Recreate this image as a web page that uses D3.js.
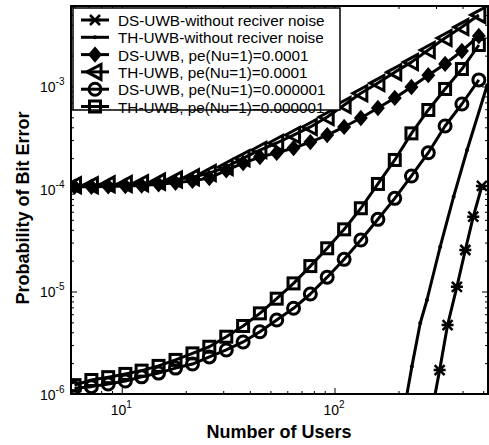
<!DOCTYPE html>
<html>
<head>
<meta charset="utf-8">
<script src="https://cdn.jsdelivr.net/npm/d3@7"></script>
<style>
  body { margin: 0; background: #fff; }
  svg { display: block; font-family: Arial, "Liberation Sans", sans-serif; }
</style>
</head>
<body>
<div id="chart"></div>
<script>
// number of users, one per marker on the pe(Nu=1) curves
const users = [6, 7.2, 8.64, 10.4, 12.4, 14.9, 17.9, 21.5, 25.8, 31, 37.2, 44.6, 53.5,
  64.2, 77, 92.4, 111, 133, 160, 192, 230, 276, 331, 397, 477];

const dsPe4 = [1.05e-4, 1.05e-4, 1.06e-4, 1.07e-4, 1.08e-4, 1.11e-4, 1.15e-4, 1.2e-4, 1.28e-4,
  1.52e-4, 1.79e-4, 2.05e-4, 2.25e-4, 2.51e-4, 2.87e-4, 3.36e-4, 4.03e-4, 4.93e-4, 6.17e-4,
  7.73e-4, 9.89e-4, 1.29e-3, 1.66e-3, 2.22e-3, 3.11e-3];
const thPe4 = [1.09e-4, 1.09e-4, 1.11e-4, 1.12e-4, 1.14e-4, 1.18e-4, 1.24e-4, 1.3e-4, 1.43e-4,
  1.64e-4, 2.0e-4, 2.4e-4, 2.81e-4, 3.36e-4, 4.03e-4, 5.04e-4, 6.6e-4, 8.6e-4, 1.08e-3,
  1.38e-3, 1.73e-3, 2.27e-3, 2.97e-3, 3.8e-3, 4.99e-3];
const dsPe6 = [1.14e-6, 1.18e-6, 1.25e-6, 1.34e-6, 1.47e-6, 1.6e-6, 1.79e-6, 1.96e-6, 2.3e-6,
  2.69e-6, 3.22e-6, 4.05e-6, 5.27e-6, 6.86e-6, 9.45e-6, 1.38e-5, 2.06e-5, 3.18e-5, 5.06e-5,
  8.11e-5, 1.34e-4, 2.26e-4, 4.12e-4, 6.75e-4, 1.16e-3];
const thPe6 = [1.22e-6, 1.37e-6, 1.46e-6, 1.57e-6, 1.69e-6, 1.88e-6, 2.15e-6, 2.49e-6, 2.89e-6,
  3.62e-6, 4.61e-6, 6.12e-6, 8.51e-6, 1.2e-5, 1.77e-5, 2.64e-5, 4.04e-5, 6.49e-5, 1.12e-4,
  1.92e-4, 3.49e-4, 5.9e-4, 9.46e-4, 1.48e-3, 2.54e-3];

// curves without receiver noise have their own user counts
const dsNoNoiseUsers = [285, 312, 340, 376, 412, 449, 493];
const dsNoNoise = [6.3e-7, 1.71e-6, 4.71e-6, 1.11e-5, 2.54e-5, 5.37e-5, 1.07e-4];
const thNoNoiseUsers = [215, 231, 253, 272, 314, 363, 420, 522];
const thNoNoise = [8e-7, 1.85e-6, 4.93e-6, 8.26e-6, 2.74e-5, 8.41e-5, 2.4e-4, 1.03e-3];

const legendLabels = [
  'DS-UWB-without reciver noise',
  'TH-UWB-without reciver noise',
  'DS-UWB, pe(Nu=1)=0.0001',
  'TH-UWB, pe(Nu=1)=0.0001',
  'DS-UWB, pe(Nu=1)=0.000001',
  'TH-UWB, pe(Nu=1)=0.000001'
];

const xMajor = [10, 100];
const yMajor = [1e-6, 1e-5, 1e-4, 1e-3];

const W = 489, H = 445;
const m = { left: 71, right: 488, top: 6, bottom: 394 };

const x = d3.scaleLog().domain([5.775, 526.6]).range([m.left, m.right]);
const y = d3.scaleLog().domain([1e-6, 6.1e-3]).range([m.bottom, m.top]);

const svg = d3.select('#chart').append('svg')
  .attr('width', W).attr('height', H);

svg.append('defs').append('clipPath').attr('id', 'clip')
  .append('rect')
  .attr('x', m.left).attr('y', m.top)
  .attr('width', m.right - m.left).attr('height', m.bottom - m.top);

// minor/major tick values
const xTicks = [];
[1, 10, 100].forEach(d => { for (let k = 1; k < 10; k++) xTicks.push(d * k); });
const xTv = xTicks.filter(v => v >= 5.775 && v <= 526.6);
const yTicks = [];
[1e-6, 1e-5, 1e-4, 1e-3].forEach(d => { for (let k = 1; k < 10; k++) yTicks.push(d * k); });
const yTv = yTicks.filter(v => v >= 1e-6 && v <= 6.1e-3);
const isMajor = v => Math.abs(Math.log10(v) - Math.round(Math.log10(v))) < 1e-9;

const axisG = svg.append('g');
const tickLen = v => isMajor(v) ? 6 : 3;

axisG.append('g').attr('transform', `translate(0,${m.bottom})`)
  .call(d3.axisBottom(x).tickValues(xTv).tickFormat('').tickSizeOuter(0))
  .call(g => g.selectAll('.tick line').attr('y2', d => -tickLen(d)));
axisG.append('g').attr('transform', `translate(0,${m.top})`)
  .call(d3.axisTop(x).tickValues(xTv).tickFormat('').tickSizeOuter(0))
  .call(g => g.selectAll('.tick line').attr('y2', d => tickLen(d)));
axisG.append('g').attr('transform', `translate(${m.left},0)`)
  .call(d3.axisLeft(y).tickValues(yTv).tickFormat('').tickSizeOuter(0))
  .call(g => g.selectAll('.tick line').attr('x2', d => tickLen(d)));
axisG.append('g').attr('transform', `translate(${m.right},0)`)
  .call(d3.axisRight(y).tickValues(yTv).tickFormat('').tickSizeOuter(0))
  .call(g => g.selectAll('.tick line').attr('x2', d => -tickLen(d)));
axisG.selectAll('.domain').remove();
axisG.selectAll('.tick line').attr('stroke', '#000').attr('stroke-width', 1);

svg.append('rect')
  .attr('x', m.left).attr('y', m.top)
  .attr('width', m.right - m.left).attr('height', m.bottom - m.top)
  .attr('fill', 'none').attr('stroke', '#000').attr('stroke-width', 2);

// tick labels with superscript exponent
function powLabel(g, v) {
  const t = g.append('text').attr('font-size', 14).attr('fill', '#000');
  t.append('tspan').text('10');
  t.append('tspan').attr('dy', -7).attr('font-size', 10).text(Math.round(Math.log10(v)));
  return t;
}
xMajor.forEach(v => {
  powLabel(svg, v).attr('x', x(v) - 11).attr('y', 415);
});
yMajor.forEach(v => {
  powLabel(svg, v).attr('x', 40).attr('y', y(v) + 6);
});

svg.append('text')
  .attr('x', 279).attr('y', 438)
  .attr('text-anchor', 'middle')
  .attr('font-size', 18).attr('font-weight', 'bold')
  .text('Number of Users');
svg.append('text')
  .attr('transform', `translate(29,${(m.top + m.bottom) / 2 + 8}) rotate(-90)`)
  .attr('text-anchor', 'middle')
  .attr('font-size', 18).attr('font-weight', 'bold')
  .text('Probability of Bit Error');

// series
const series = [
  { xs: dsNoNoiseUsers, ys: dsNoNoise, marker: 'star' },
  { xs: thNoNoiseUsers, ys: thNoNoise, marker: 'dot' },
  { xs: users, ys: dsPe4, marker: 'diamond' },
  { xs: users, ys: thPe4, marker: 'tri' },
  { xs: users, ys: dsPe6, marker: 'circle' },
  { xs: users, ys: thPe6, marker: 'square' }
];

function drawMarker(g, type, cx, cy) {
  const s = g.append('g').attr('transform', `translate(${cx},${cy})`);
  if (type === 'star') {
    s.append('path')
      .attr('d', 'M-5,-5L5,5M-5,5L5,-5M-6,0L6,0')
      .attr('stroke', '#000').attr('stroke-width', 2.5).attr('fill', 'none');
  } else if (type === 'dot') {
    s.append('circle').attr('r', 2).attr('fill', '#000');
  } else if (type === 'diamond') {
    s.append('path').attr('d', 'M0,-7L6,0L0,7L-6,0Z')
      .attr('fill', '#000').attr('stroke', '#000').attr('stroke-width', 1.5);
  } else if (type === 'tri') {
    s.append('path').attr('d', 'M-8,0L6,-7.5L6,7.5Z')
      .attr('fill', 'none').attr('stroke', '#000').attr('stroke-width', 3)
      .attr('stroke-linejoin', 'miter');
  } else if (type === 'circle') {
    s.append('circle').attr('r', 6)
      .attr('fill', 'none').attr('stroke', '#000').attr('stroke-width', 3);
  } else if (type === 'square') {
    s.append('rect').attr('x', -5.5).attr('y', -5.5).attr('width', 11).attr('height', 11)
      .attr('fill', 'none').attr('stroke', '#000').attr('stroke-width', 3);
  }
}

const plot = svg.append('g').attr('clip-path', 'url(#clip)');
const line = d3.line().x(d => x(d[0])).y(d => y(d[1]));

series.forEach(s => {
  const pts = s.xs.map((v, i) => [v, s.ys[i]]);
  plot.append('path').datum(pts)
    .attr('d', line)
    .attr('fill', 'none').attr('stroke', '#000').attr('stroke-width', 3)
    .attr('stroke-linejoin', 'round');
  pts.forEach(p => drawMarker(plot, s.marker, x(p[0]), y(p[1])));
});

// legend
const lg = svg.append('g');
lg.append('rect')
  .attr('x', 73).attr('y', 8).attr('width', 267).attr('height', 102)
  .attr('fill', '#fff').attr('stroke', '#000').attr('stroke-width', 1.5);
legendLabels.forEach((lab, i) => {
  const ly = 20 + i * 17.3;
  lg.append('line').attr('x1', 81).attr('x2', 109).attr('y1', ly).attr('y2', ly)
    .attr('stroke', '#000').attr('stroke-width', 3);
  drawMarker(lg, series[i].marker, 95, ly);
  lg.append('text').attr('x', 118).attr('y', ly + 6)
    .attr('font-size', 15.3).attr('fill', '#000').text(lab);
});
</script>
</body>
</html>
